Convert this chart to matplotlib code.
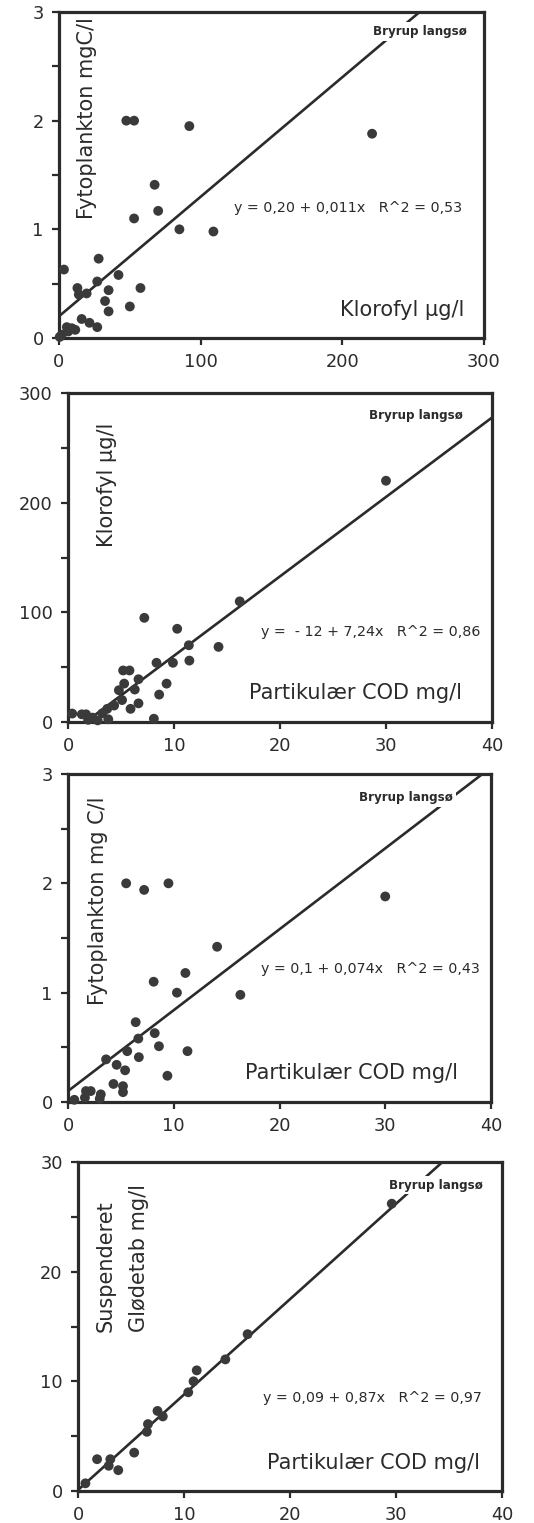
import matplotlib
matplotlib.use("Agg")
import matplotlib.pyplot as plt
import numpy as np
from matplotlib.ticker import MultipleLocator, NullFormatter

INK = "#2b2b2b"
DOT = "#3a3a3a"
W_PX, H_PX = 534, 1523

# --- Panel 1: fytoplankton (mgC/l) mod klorofyl (µg/l)
chl_p1 = [0.5, 2, 5.5, 6.5, 9, 11.5, 3.5, 13, 14, 19.5, 16, 21.5, 27, 27, 28,
          32.5, 35, 35, 42, 47.5, 50, 53, 53, 57.5, 67.5, 70, 85, 92, 109, 221]
phyto_p1 = [0.01, 0.03, 0.10, 0.06, 0.09, 0.075, 0.63, 0.46, 0.40, 0.41, 0.175,
            0.14, 0.10, 0.52, 0.73, 0.34, 0.44, 0.245, 0.58, 2.0, 0.29, 2.0,
            1.10, 0.46, 1.41, 1.17, 1.0, 1.95, 0.98, 1.88]
fit_p1 = (0.20, 0.011)
eq_p1 = "y = 0,20 + 0,011x   R^2 = 0,53"

# --- Panel 2: klorofyl (µg/l) mod partikulær COD (mg/l)
cod_p2 = [0.4, 1.3, 1.7, 1.9, 2.3, 2.8, 3.25, 3.7, 3.8, 4.35, 4.8, 5.1, 5.2, 5.3,
          5.8, 5.9, 6.3, 6.65, 6.65, 7.2, 8.1, 8.35, 8.6, 9.3, 9.9, 10.3, 11.4,
          11.45, 14.2, 16.2, 30]
chl_p2 = [7.7, 7, 7, 2, 4, 1.5, 8, 12, 2.5, 15, 29, 20, 47, 35, 47, 12, 29.6, 39,
          17, 95, 3, 54, 25, 35, 54, 85, 70, 56, 68.5, 110, 220]
fit_p2 = (-12, 7.24)
eq_p2 = "y =  - 12 + 7,24x   R^2 = 0,86"

# --- Panel 3: fytoplankton (mg C/l) mod partikulær COD (mg/l)
cod_p3 = [0.6, 1.6, 1.7, 2.15, 3.0, 3.1, 3.6, 4.3, 4.6, 5.2, 5.2, 5.4, 5.5, 5.6,
          6.4, 6.65, 6.7, 7.2, 8.1, 8.2, 8.6, 9.4, 9.5, 10.3, 11.1, 11.3, 14.1,
          16.3, 30]
phyto_p3 = [0.02, 0.04, 0.10, 0.10, 0.03, 0.07, 0.39, 0.165, 0.34, 0.145, 0.09,
            0.29, 2.0, 0.465, 0.73, 0.58, 0.41, 1.94, 1.10, 0.63, 0.51, 0.24,
            2.0, 1.0, 1.18, 0.465, 1.42, 0.98, 1.88]
fit_p3 = (0.1, 0.074)
eq_p3 = "y = 0,1 + 0,074x   R^2 = 0,43"

# --- Panel 4: suspenderet glødetab (mg/l) mod partikulær COD (mg/l)
cod_p4 = [0.7, 1.8, 2.9, 3.05, 3.8, 5.3, 6.5, 6.6, 7.5, 8.0, 10.4, 10.9, 11.2,
          13.9, 16.0, 29.6]
loss_p4 = [0.7, 2.9, 2.3, 2.9, 1.9, 3.5, 5.4, 6.1, 7.3, 6.8, 9.0, 10.0, 11.0,
           12.0, 14.3, 26.2]
fit_p4 = (0.09, 0.87)
eq_p4 = "y = 0,09 + 0,87x   R^2 = 0,97"

lake_name = "Bryrup langsø"

panels = [
    dict(x=chl_p1, y=phyto_p1, fit=fit_p1, eq=eq_p1,
         box=(59, 12, 484, 338), xlim=(0, 300), ylim=(0, 3),
         xmaj=100, ymaj=1, ymin=0.5,
         ylabels=[("Fytoplankton mgC/l", 0.067, 0.985, "top")],
         xlabel=("Klorofyl µg/l", 0.955, 0.085),
         eqpos=(0.948, 0.40), lakepos=(0.96, 0.94)),
    dict(x=cod_p2, y=chl_p2, fit=fit_p2, eq=eq_p2,
         box=(68, 393, 492, 722), xlim=(0, 40), ylim=(0, 300),
         xmaj=10, ymaj=100, ymin=50,
         ylabels=[("Klorofyl µg/l", 0.092, 0.91, "top")],
         xlabel=("Partikulær COD mg/l", 0.929, 0.088),
         eqpos=(0.972, 0.274), lakepos=(0.932, 0.933)),
    dict(x=cod_p3, y=phyto_p3, fit=fit_p3, eq=eq_p3,
         box=(68, 774, 491, 1102), xlim=(0, 40), ylim=(0, 3),
         xmaj=10, ymaj=1, ymin=0.5,
         ylabels=[("Fytoplankton mg C/l", 0.07, 0.93, "top")],
         xlabel=("Partikulær COD mg/l", 0.922, 0.088),
         eqpos=(0.974, 0.405), lakepos=(0.91, 0.928)),
    dict(x=cod_p4, y=loss_p4, fit=fit_p4, eq=eq_p4,
         box=(78, 1162, 502, 1491), xlim=(0, 40), ylim=(0, 30),
         xmaj=10, ymaj=10, ymin=5,
         ylabels=[("Suspenderet", 0.066, 0.484, "bottom"),
                  ("Glødetab mg/l", 0.143, 0.484, "bottom")],
         xlabel=("Partikulær COD mg/l", 0.948, 0.085),
         eqpos=(0.953, 0.283), lakepos=(0.955, 0.93)),
]

plt.rcParams["font.family"] = ["DejaVu Sans"]
fig = plt.figure(figsize=(W_PX / 100, H_PX / 100), dpi=100)
fig.patch.set_facecolor("white")

for p in panels:
    l, t, r, b = p["box"]
    ax = fig.add_axes([l / W_PX, 1 - b / H_PX, (r - l) / W_PX, (b - t) / H_PX])
    ax.set_xlim(*p["xlim"])
    ax.set_ylim(*p["ylim"])
    for s in ax.spines.values():
        s.set_linewidth(2.3)
        s.set_color(INK)

    ax.xaxis.set_major_locator(MultipleLocator(p["xmaj"]))
    ax.yaxis.set_major_locator(MultipleLocator(p["ymaj"]))
    ax.yaxis.set_minor_locator(MultipleLocator(p["ymin"]))
    ax.yaxis.set_minor_formatter(NullFormatter())
    ax.tick_params(which="both", direction="out", length=5, width=1.6,
                   color=INK, labelcolor=INK, labelsize=12.8, pad=6)

    # Regression line from the stated equation
    a, k = p["fit"]
    xs = np.linspace(p["xlim"][0], p["xlim"][1], 200)
    ax.plot(xs, a + k * xs, color=INK, lw=1.9, zorder=2)

    ax.scatter(p["x"], p["y"], s=50, color=DOT, edgecolors="none", zorder=3,
               clip_on=False)

    for txt, fx, fy, va in p["ylabels"]:
        ax.text(fx, fy, txt, transform=ax.transAxes, rotation=90,
                ha="center", va=va, fontsize=15, color=INK)
    xl, fx, fy = p["xlabel"]
    ax.text(fx, fy, xl, transform=ax.transAxes, ha="right", va="center",
            fontsize=15, color=INK)
    ax.text(p["eqpos"][0], p["eqpos"][1], p["eq"], transform=ax.transAxes,
            ha="right", va="center", fontsize=10.3, color=INK)
    ax.text(p["lakepos"][0], p["lakepos"][1], lake_name, transform=ax.transAxes,
            ha="right", va="center", fontsize=8.6, fontweight="bold", color=INK,
            zorder=4, bbox=dict(facecolor="white", edgecolor="none", pad=2))

fig.savefig("out.png", dpi=100, facecolor="white")
